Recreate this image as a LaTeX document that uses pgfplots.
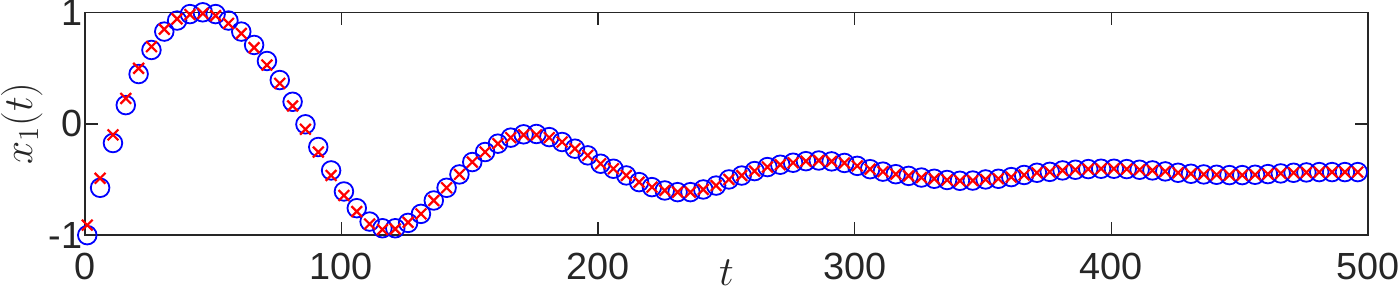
\documentclass[border=0pt]{standalone}
\usepackage{fontspec}
\setmainfont{Liberation Sans}
\usepackage{pgfplots}
\pgfplotsset{compat=1.18}
\usepackage{pgfplotstable}
\definecolor{axgray}{rgb}{0.15,0.15,0.15}

\pgfplotstableread{
t c x
1 -1.000 -0.910
6 -0.575 -0.490
11 -0.173 -0.100
16 0.167 0.227
21 0.446 0.497
26 0.662 0.692
31 0.827 0.848
36 0.926 0.941
41 0.984 0.980
46 1.000 0.990
51 0.984 0.970
56 0.926 0.900
61 0.827 0.810
66 0.707 0.683
71 0.563 0.527
76 0.392 0.362
81 0.197 0.160
86 -0.005 -0.050
91 -0.209 -0.254
96 -0.419 -0.464
101 -0.608 -0.644
106 -0.758 -0.788
111 -0.878 -0.900
116 -0.938 -0.950
121 -0.938 -0.945
126 -0.890 -0.885
131 -0.809 -0.809
136 -0.689 -0.689
141 -0.575 -0.575
146 -0.455 -0.455
151 -0.344 -0.344
156 -0.254 -0.254
161 -0.179 -0.179
166 -0.125 -0.125
171 -0.095 -0.100
176 -0.092 -0.100
181 -0.120 -0.125
186 -0.164 -0.164
191 -0.224 -0.224
196 -0.284 -0.284
201 -0.359 -0.359
206 -0.404 -0.404
211 -0.464 -0.464
216 -0.524 -0.524
221 -0.569 -0.569
226 -0.599 -0.599
231 -0.614 -0.614
236 -0.614 -0.614
241 -0.590 -0.590
246 -0.555 -0.555
251 -0.500 -0.500
256 -0.465 -0.465
261 -0.425 -0.425
266 -0.389 -0.389
271 -0.368 -0.368
276 -0.350 -0.350
281 -0.336 -0.336
286 -0.330 -0.330
291 -0.338 -0.338
296 -0.352 -0.352
301 -0.378 -0.378
306 -0.408 -0.408
311 -0.430 -0.430
316 -0.453 -0.453
321 -0.468 -0.468
326 -0.483 -0.483
331 -0.494 -0.494
336 -0.505 -0.505
341 -0.512 -0.512
346 -0.510 -0.510
351 -0.500 -0.500
356 -0.494 -0.494
361 -0.479 -0.479
366 -0.460 -0.460
371 -0.440 -0.440
376 -0.432 -0.432
381 -0.419 -0.419
386 -0.413 -0.413
391 -0.407 -0.407
396 -0.404 -0.404
401 -0.404 -0.404
406 -0.407 -0.407
411 -0.413 -0.413
416 -0.419 -0.419
421 -0.428 -0.428
426 -0.440 -0.440
431 -0.449 -0.449
436 -0.455 -0.455
441 -0.458 -0.458
446 -0.461 -0.461
451 -0.461 -0.461
456 -0.458 -0.458
461 -0.452 -0.452
466 -0.446 -0.446
471 -0.440 -0.440
476 -0.437 -0.437
481 -0.434 -0.434
486 -0.434 -0.434
491 -0.434 -0.434
496 -0.434 -0.434
}\data

\begin{document}
\begin{tikzpicture}
\begin{axis}[
  name=ax,
  scale only axis,
  width=641.5pt, height=111.4pt,
  xmin=0, xmax=500, ymin=-1, ymax=1,
  xtick={0,100,200,300,400,500},
  ytick={-1,0,1},
  tick align=inside,
  major tick length=6.5pt,
  axis line style={axgray, line width=0.8pt},
  every tick/.style={axgray, line width=0.8pt},
  tick label style={font=\fontsize{18.9}{22}\selectfont, text=axgray},
  /pgf/number format/assume math mode=true,
  xticklabel style={yshift=-5.2pt},
  yticklabel style={xshift=2.4pt},
  clip=false,
  xlabel={$t$},
  ylabel={$x_1(t)$},
  xlabel style={font=\fontsize{22}{26}\selectfont, text=axgray, at={(axis description cs:0.5,-0.2244)}, anchor=base},
  ylabel style={font=\fontsize{22}{26}\selectfont, text=axgray, at={(axis description cs:-0.04108,0.5)}, anchor=base},
]
\addplot[only marks, mark=o, mark size=4.65pt, blue, mark options={line width=0.9pt, draw=blue}] table[x=t, y=c] {\data};
\addplot[only marks, mark=x, mark size=3.8pt, red, mark options={line width=1.1pt, draw=red}] table[x=t, y=x] {\data};
\end{axis}
\pgfresetboundingbox
\path ([shift={(-42.35pt,-26.5pt)}]ax.south west) rectangle ([shift={(16pt,6.15pt)}]ax.north east);
\end{tikzpicture}
\end{document}
